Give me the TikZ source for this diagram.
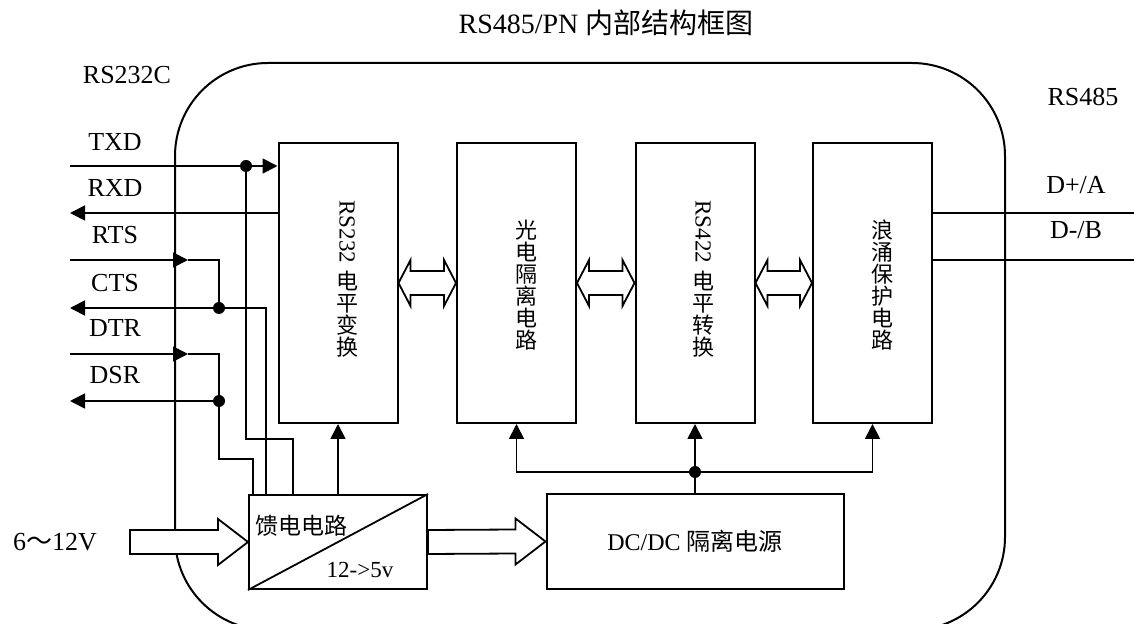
\documentclass[tikz,border=0pt]{standalone}
\usepackage{fontspec}
\setmainfont{Liberation Serif}
\newfontfamily\cjk{Noto Sans CJK SC}
\usepackage{tikz}
\usetikzlibrary{arrows.meta, calc}
\tikzset{
    block/.style={rectangle, draw, line width=1pt, minimum width=59.5pt, minimum height=140pt, inner sep=0pt},
    vtext/.style={align=center, inner sep=0pt, font=\cjk\fontsize{11}{11}\selectfont},
    vlatin/.style={rotate=-90, anchor=west, inner sep=0pt, font=\fontsize{11.5}{12}\selectfont},
    siglabel/.style={inner sep=0pt, font=\fontsize{13}{14}\selectfont},
    wire/.style={line width=0.9pt},
    arrow/.style={wire, -{Triangle[length=7.5pt, width=7.5pt]}},
    dot/.style={circle, fill, inner sep=0pt, minimum size=6pt},
    fat/.style={line width=0.9pt, fill=white, line join=miter}
}
% fat power arrow: tail point, tip anchor
\newcommand{\fatarrow}[2]{%
    \draw[fat] ($(#1)+(0,-12)$) -- ($(#2)+(-30,-12)$) -- ($(#2)+(-30,-23)$) -- (#2)
        -- ($(#2)+(-30,23)$) -- ($(#2)+(-30,12)$) -- ($(#1)+(0,12)$) -- cycle;}
% hollow double arrow between two blocks
\newcommand{\dblarrow}[2]{%
    \draw[fat] (#1) -- ($(#1)+(12,-23)$) -- ($(#1)+(12,-12)$) -- ($(#2)+(-12,-12)$) -- ($(#2)+(-12,-23)$) -- (#2)
        -- ($(#2)+(-12,23)$) -- ($(#2)+(-12,12)$) -- ($(#1)+(12,12)$) -- ($(#1)+(12,23)$) -- cycle;}

\begin{document}
\begin{tikzpicture}[x=0.5pt, y=-0.5pt]
    \useasboundingbox (0,0) rectangle (1134,624);
    \clip (0,0) rectangle (1134,624);

    % housing and headings
    \draw[line width=1pt, rounded corners=46.5pt] (175,63) rectangle (1005,630);
    \node (title) at (606,23) {\fontsize{14}{16}\selectfont RS485/PN {\cjk 内部结构框图}};
    \node[siglabel] (rs232c) at (127,75) {RS232C};
    \node[siglabel] (rs485) at (1083,97) {RS485};

    % main blocks
    \node[block] (b232) at (338,283) {};
    \node[block] (biso) at (516.5,283) {};
    \node[block] (b422) at (695,283) {};
    \node[block] (bsurge) at (872.5,283) {};
    \node[vlatin] (t232) at (347,200) {RS232};
    \node[vtext, anchor=north] (c232) at (347,271) {电\\平\\变\\换};
    \node[vtext] (ciso) at (526,285) {光\\电\\隔\\离\\电\\路};
    \node[vlatin] (t422) at (703,200) {RS422};
    \node[vtext, anchor=north] (c422) at (703,271) {电\\平\\转\\换};
    \node[vtext] (csurge) at (882,285) {浪\\涌\\保\\护\\电\\路};

    \dblarrow{b232.east}{biso.west}
    \dblarrow{biso.east}{b422.west}
    \dblarrow{b422.east}{bsurge.west}

    % power supply
    \node[block, minimum width=89pt, minimum height=47pt] (feed) at (338,542) {};
    \draw[wire] (feed.south west) -- (feed.north east);
    \node[vtext, anchor=north west, font=\cjk\fontsize{11.5}{12}\selectfont] (feedtxt) at (255,515) {馈电电路};
    \node[siglabel, font=\fontsize{11.5}{12}\selectfont] (feedv) at (360,570) {12->5v};
    \node[block, minimum width=148.5pt, minimum height=47.5pt, font=\fontsize{12}{14}\selectfont] (dcdc) at (695,541.5) {DC/DC {\cjk 隔离电源}};

    \coordinate (vin) at (130,542);
    \fatarrow{vin}{feed.west}
    \fatarrow{feed.east}{dcdc.west}
    \node[siglabel] (vlabel) at (55,542) {6{\cjk ～}12V};

    \draw[arrow] (feed.north) -- (b232.south);
    \node[dot] (jdc) at (695,472) {};
    \draw[wire] (dcdc.north) -- (jdc);
    \draw[arrow] (jdc) -| (biso.south);
    \draw[arrow] (jdc) -- (b422.south);
    \draw[arrow] (jdc) -| (bsurge.south);

    % RS232 side signals
    \node[siglabel] (ltxd) at (115,142) {TXD};
    \node[siglabel] (lrxd) at (115,188) {RXD};
    \node[siglabel] (lrts) at (115,235) {RTS};
    \node[siglabel] (lcts) at (115,283) {CTS};
    \node[siglabel] (ldtr) at (115,328) {DTR};
    \node[siglabel] (ldsr) at (115,375) {DSR};

    \coordinate (txd) at (70,166);
    \coordinate (rxd) at (70,213);
    \coordinate (rts) at (70,260);
    \coordinate (cts) at (70,308);
    \coordinate (dtr) at (70,354);
    \coordinate (dsr) at (70,401);
    \coordinate (rtsin) at (188,260);
    \coordinate (dtrin) at (188,354);
    \node[dot] (jtxd) at (246,166) {};
    \node[dot] (jcts) at (219,308) {};
    \node[dot] (jdsr) at (219,401) {};

    \draw[arrow] (txd) -- (b232.west |- txd);
    \draw[wire] (jtxd) -- (246,439) -| ($(feed.north west)+(45,0)$);
    \draw[arrow] (b232.west |- rxd) -- (rxd);
    \draw[arrow] (rts) -- (rtsin);
    \draw[wire] (rtsin) -| (jcts);
    \draw[arrow] (jcts) -- (cts);
    \draw[wire] (jcts) -| ($(feed.north west)+(18,0)$);
    \draw[arrow] (dtr) -- (dtrin);
    \draw[wire] (dtrin) -| (jdsr);
    \draw[arrow] (jdsr) -- (dsr);
    \draw[wire] (jdsr) -- (219,459) -| ($(feed.north west)+(5,0)$);

    % RS485 side
    \coordinate (dpa) at (1134,213);
    \coordinate (dmb) at (1134,260);
    \draw[wire] (bsurge.east |- dpa) -- (dpa);
    \draw[wire] (bsurge.east |- dmb) -- (dmb);
    \node[siglabel] (lda) at (1076,185) {D+/A};
    \node[siglabel] (ldb) at (1076,230) {D-/B};
\end{tikzpicture}
\end{document}
